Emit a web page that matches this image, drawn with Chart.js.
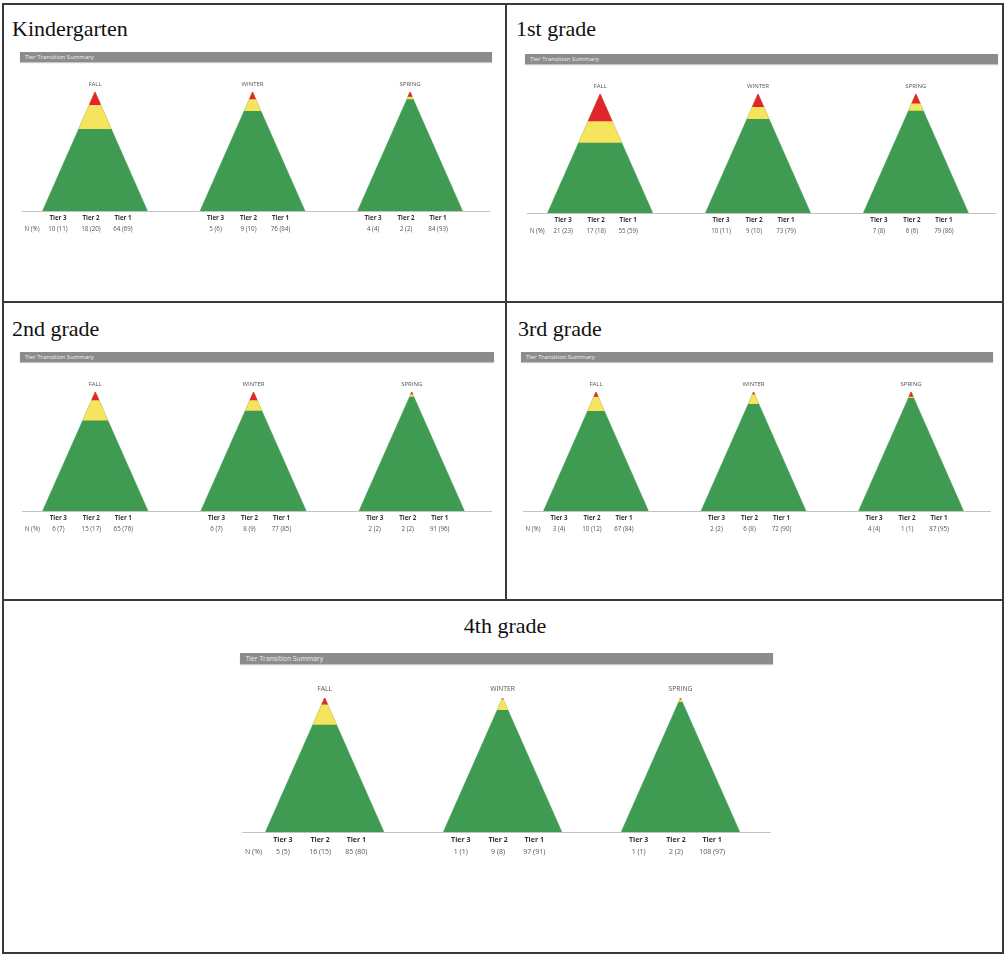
<!DOCTYPE html>
<html><head><meta charset="utf-8">
<script src="https://cdn.jsdelivr.net/npm/chart.js@4.4.0/dist/chart.umd.min.js"></script>
<style>
html,body{margin:0;padding:0;background:#fff;}
#page{position:relative;width:1005px;height:955px;overflow:hidden;background:#fff;}
.ttl{position:absolute;font-family:"Liberation Serif","Times New Roman",serif;font-size:22px;line-height:22px;color:#111;white-space:nowrap;}
.bar{position:absolute;background:#8c8c8c;color:#f0f0f0;font-family:"Open Sans",sans-serif;box-shadow:0 1px 1px #c4c4c4;white-space:nowrap;overflow:hidden;}
.rule{position:absolute;background:#3a3a3a;}
canvas{position:absolute;}
</style></head><body><div id="page"></div>
<script>
// ---------- data ----------
const grades = ["Kindergarten", "1st grade", "2nd grade", "3rd grade", "4th grade"];
const seasons = ["FALL", "WINTER", "SPRING"];
const tierNames = ["Tier 3", "Tier 2", "Tier 1"];
const rowLabel = "N (%)";
const barTitle = "Tier Transition Summary";
// [grade][season]
const tier3N   = [[10, 5, 4], [21, 10, 7], [6, 6, 2], [3, 2, 4], [5, 1, 1]];
const tier3Pct = [[11, 6, 4], [23, 11, 8], [7, 7, 2], [4, 2, 4], [5, 1, 1]];
const tier2N   = [[18, 9, 2], [17, 9, 6], [15, 8, 2], [10, 6, 1], [16, 9, 2]];
const tier2Pct = [[20, 10, 2], [18, 10, 6], [17, 9, 2], [12, 8, 1], [15, 8, 2]];
const tier1N   = [[64, 76, 84], [55, 73, 79], [65, 77, 91], [67, 72, 87], [85, 97, 108]];
const tier1Pct = [[69, 84, 93], [59, 79, 86], [76, 85, 96], [84, 90, 95], [80, 91, 97]];

// ---------- styles / layout ----------
const GREEN = '#3f9b52', YELLOW = '#f6e35e', RED = '#e0262c';
const HALF = 0.333;
const layouts = [
  { title: { x: 12, y: 18 }, bar: { x: 20, y: 52, w: 472 }, s: 1 },
  { title: { x: 516, y: 18 }, bar: { x: 525, y: 54, w: 473 }, s: 1 },
  { title: { x: 12, y: 318 }, bar: { x: 20, y: 352, w: 474 }, s: 1 },
  { title: { x: 518, y: 318 }, bar: { x: 521, y: 352, w: 472 }, s: 1 },
  { title: { cx: 505, y: 615 }, bar: { x: 240, y: 653, w: 533 }, s: 1.13 }
];

const page = document.getElementById('page');
function rule(x, y, w, h) {
  const d = document.createElement('div'); d.className = 'rule';
  Object.assign(d.style, { left: x + 'px', top: y + 'px', width: w + 'px', height: h + 'px' });
  page.appendChild(d);
}
// table borders
rule(2, 3, 1002, 2); rule(2, 952, 1002, 2); rule(2, 3, 2, 951); rule(1002, 3, 2, 951);
rule(505, 3, 1.5, 598); rule(2, 301, 1002, 1.5); rule(2, 599, 1002, 1.5);

grades.forEach((gname, g) => {
  const L = layouts[g], s = L.s;
  const t = document.createElement('div'); t.className = 'ttl'; t.textContent = gname;
  t.style.top = L.title.y + 'px';
  if (L.title.cx !== undefined) { t.style.left = (L.title.cx - 100) + 'px'; t.style.width = '200px'; t.style.textAlign = 'center'; }
  else t.style.left = L.title.x + 'px';
  page.appendChild(t);

  const barH = Math.round(10 * s);
  const b = document.createElement('div'); b.className = 'bar'; b.textContent = barTitle;
  Object.assign(b.style, { left: L.bar.x + 'px', top: L.bar.y + 'px', width: L.bar.w + 'px', height: barH + 'px',
    fontSize: (6 * s) + 'px', lineHeight: barH + 'px', paddingLeft: 0, textIndent: (5 * s) + 'px' });
  page.appendChild(b);

  const cv = document.createElement('canvas');
  const W = L.bar.w, H = Math.round(180 * s);
  cv.width = W; cv.height = H;
  Object.assign(cv.style, { left: L.bar.x + 'px', top: (L.bar.y + barH) + 'px', width: W + 'px', height: H + 'px' });
  page.appendChild(cv);

  const datasets = [];
  for (let i = 0; i < seasons.length; i++) {
    const a = tier1Pct[g][i], m = tier2Pct[g][i], r = tier3Pct[g][i];
    const tot = a + m + r;
    const g1 = a / tot * 100, g2 = (a + m) / tot * 100;
    const tri = (base, color, order) => ({
      data: [{ x: i - HALF * (1 - base / 100), y: base }, { x: i, y: 100 }, { x: i + HALF * (1 - base / 100), y: base }],
      fill: { value: base }, backgroundColor: color, borderColor: color, borderWidth: 0.6,
      pointRadius: 0, tension: 0, order
    });
    datasets.push(tri(0, GREEN, 2), tri(g1, YELLOW, 1), tri(g2, RED, 0));
  }

  const labelPlugin = {
    id: 'tierLabels',
    beforeDatasetsDraw(chart) {
      const { ctx, scales: { y } } = chart;
      const y0 = Math.round(y.getPixelForValue(0)) + 0.5;
      ctx.save();
      ctx.strokeStyle = '#c2c2c2'; ctx.lineWidth = 1;
      ctx.beginPath(); ctx.moveTo(2 * s, y0); ctx.lineTo(chart.width - 2 * s, y0); ctx.stroke();
      ctx.restore();
    },
    afterDraw(chart) {
      const { ctx, scales: { x, y } } = chart;
      const yTop = y.getPixelForValue(100), yBase = y.getPixelForValue(0);
      ctx.save();
      ctx.textAlign = 'center'; ctx.textBaseline = 'middle';
      const offs = [-37, -4, 28];
      for (let i = 0; i < seasons.length; i++) {
        const cx = x.getPixelForValue(i);
        ctx.fillStyle = '#555';
        ctx.font = `${6 * s}px "Open Sans", sans-serif`;
        ctx.fillText(seasons[i], cx, yTop - 8 * s);
        const vals = [
          `${tier3N[g][i]} (${tier3Pct[g][i]})`,
          `${tier2N[g][i]} (${tier2Pct[g][i]})`,
          `${tier1N[g][i]} (${tier1Pct[g][i]})`
        ];
        for (let k = 0; k < 3; k++) {
          const tx = cx + offs[k] * s;
          ctx.fillStyle = '#333';
          ctx.font = `bold ${6.2 * s}px "Open Sans", sans-serif`;
          ctx.fillText(tierNames[k], tx, yBase + 7 * s);
          ctx.fillStyle = '#555';
          ctx.font = `${6.2 * s}px "Open Sans", sans-serif`;
          ctx.fillText(vals[k], tx, yBase + 18 * s);
        }
        if (i === 0) {
          ctx.fillText(rowLabel, cx - 63 * s, yBase + 18 * s);
        }
      }
      ctx.restore();
    }
  };

  new Chart(cv, {
    type: 'line',
    data: { datasets },
    options: {
      responsive: false, animation: false, events: [],
      layout: { padding: { top: 30 * s, bottom: 31 * s, left: 0, right: 0 } },
      scales: {
        x: { type: 'linear', min: -0.476, max: 2.52, display: false },
        y: { min: 0, max: 100, display: false }
      },
      plugins: { legend: { display: false }, tooltip: { enabled: false } }
    },
    plugins: [labelPlugin]
  });
});
</script></body></html>
